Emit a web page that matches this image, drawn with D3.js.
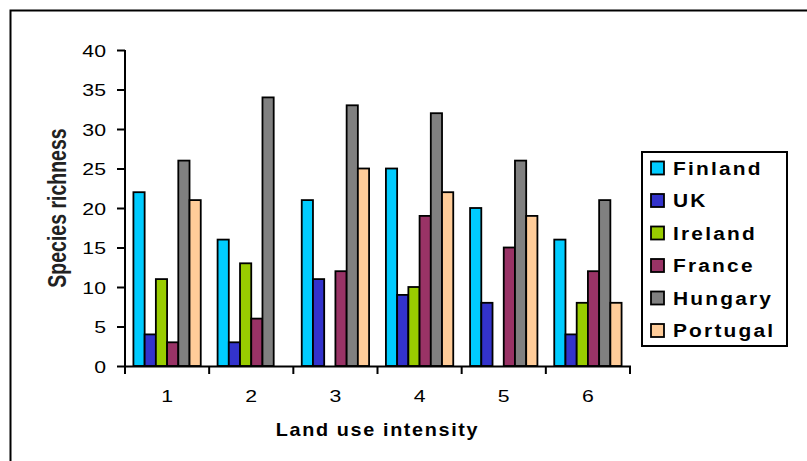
<!DOCTYPE html>
<html><head><meta charset="utf-8">
<script src="https://cdn.jsdelivr.net/npm/d3@7"></script>
<style>body{margin:0;background:#fff} svg{display:block}</style>
</head><body>
<svg id="chart" width="807" height="461"></svg>
<script>
// ---- data ----
const categories = ["1","2","3","4","5","6"];
const seriesNames = ["Finland","UK","Ireland","France","Hungary","Portugal"];
const finland  = [22,16,21,25,20,16];
const uk       = [4,3,11,9,8,4];
const ireland  = [11,13,null,10,null,8];
const france   = [3,6,12,19,15,12];
const hungary  = [26,34,33,32,26,21];
const portugal = [21,null,25,22,19,8];
const yTicks = [0,5,10,15,20,25,30,35,40];
const colors = ["#00CCFF","#3333CC","#99CC00","#993366","#808080","#FFCC99"];
const xTitle = "Land use intensity";
const yTitle = "Species richness";

const seriesValues = [finland, uk, ireland, france, hungary, portugal];

// ---- layout ----
const svg = d3.select("#chart");
const pLeft = 125, pRight = 630, pTop = 50, pBottom = 366;
const SX = 1.25; // horizontal text stretch
const font = "Arial, 'Liberation Sans', Helvetica, sans-serif";

function stretch(sel, sx){
  sel.attr("transform", function(){
    const x = +this.getAttribute("x") || 0, y = +this.getAttribute("y") || 0;
    return `translate(${x},${y}) scale(${sx},1) translate(${-x},${-y})`;
  });
}

// frame
svg.append("rect").attr("x",10.5).attr("y",10.5).attr("width",900).attr("height",600)
  .attr("fill","none").attr("stroke","#000").attr("stroke-width",2);

const x0 = d3.scaleBand().domain(categories).range([pLeft,pRight]).padding(0);
const x1 = d3.scaleBand().domain(seriesNames).range([0,x0.bandwidth()]).paddingInner(0).paddingOuter(0.75);
const y = d3.scaleLinear().domain([0,40]).range([pBottom,pTop]);

// bars
const groups = svg.append("g").selectAll("g").data(categories).join("g")
  .attr("transform", d => `translate(${x0(d)},0)`);
groups.selectAll("rect")
  .data((c,ci) => seriesNames.map((s,si) => ({s, si, v: seriesValues[si][ci]})).filter(d => d.v != null && d.v > 0))
  .join("rect")
  .attr("x", d => x1(d.s))
  .attr("y", d => y(d.v))
  .attr("width", x1.bandwidth())
  .attr("height", d => y(0) - y(d.v))
  .attr("fill", d => colors[d.si])
  .attr("stroke", "#000")
  .attr("stroke-width", 1.8);

// y axis
const yAxis = svg.append("g").attr("transform",`translate(${pLeft},0)`)
  .call(d3.axisLeft(y).tickValues(yTicks).tickSize(8).tickPadding(11).tickFormat(d3.format("d")));
yAxis.select(".domain").attr("stroke","#000").attr("stroke-width",2).attr("d",`M0,${pTop}V${pBottom+1}`);
yAxis.selectAll(".tick line").attr("stroke","#000").attr("stroke-width",2);
yAxis.selectAll(".tick text").attr("font-family",font).attr("font-size",17).attr("fill","#000")
  .attr("y",0).attr("dy","0.36em").call(stretch, SX);

// x axis
const xAxisG = svg.append("g");
xAxisG.append("line").attr("x1",pLeft).attr("x2",pRight+1).attr("y1",pBottom+0.5).attr("y2",pBottom+0.5)
  .attr("stroke","#000").attr("stroke-width",2);
const bounds = categories.map(c => x0(c)).concat([pRight]);
xAxisG.selectAll("line.tk").data(bounds).join("line").attr("class","tk")
  .attr("x1",d=>d).attr("x2",d=>d).attr("y1",pBottom).attr("y2",pBottom+8)
  .attr("stroke","#000").attr("stroke-width",2);
xAxisG.selectAll("text").data(categories).join("text")
  .attr("x", d => x0(d) + x0.bandwidth()/2).attr("y", 402)
  .attr("text-anchor","middle").attr("font-family",font).attr("font-size",17).attr("fill","#000")
  .text(d => d).call(stretch, SX);

// axis titles
svg.append("text").attr("x",(pLeft+pRight)/2).attr("y",436).attr("text-anchor","middle")
  .attr("font-family",font).attr("font-size",18).attr("font-weight","bold").attr("letter-spacing",1.5)
  .attr("fill","#000").text(xTitle).call(stretch, 1.1);

svg.append("text").attr("transform","translate(66,208) scale(1.3,1) rotate(-90)")
  .attr("text-anchor","middle").attr("font-family",font).attr("font-size",19.5).attr("font-weight","bold")
  .attr("fill","#222").text(yTitle);

// legend
const lg = svg.append("g");
lg.append("rect").attr("x",642).attr("y",152).attr("width",145).attr("height",194)
  .attr("fill","#fff").attr("stroke","#000").attr("stroke-width",2);
const items = lg.selectAll("g.item").data(seriesNames).join("g").attr("class","item")
  .attr("transform",(d,i)=>`translate(0,${168 + i*32.5})`);
items.append("rect").attr("x",651).attr("y",-6.5).attr("width",13).attr("height",13)
  .attr("fill",(d,i)=>colors[i]).attr("stroke","#000").attr("stroke-width",1.8);
items.append("text").attr("x",673).attr("y",0).attr("dy","0.36em")
  .attr("font-family",font).attr("font-size",19).attr("font-weight","bold").attr("letter-spacing",2)
  .attr("fill","#000").text(d=>d).call(stretch, 1.1);
</script>
</body></html>
